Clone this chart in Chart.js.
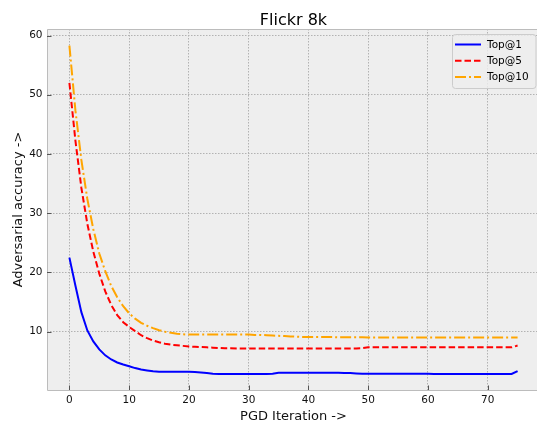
<!DOCTYPE html>
<html>
<head>
<meta charset="utf-8">
<title>Flickr 8k</title>
<script src="https://cdn.jsdelivr.net/npm/chart.js@4.4.1/dist/chart.umd.min.js"></script>
<style>
  html, body { margin: 0; padding: 0; background: #fff; overflow: hidden; }
  #wrap { position: absolute; left: 0; top: 0; width: 540px; height: 427px; }
</style>
</head>
<body>
<div id="wrap"><canvas id="chart" width="540" height="427"></canvas></div>
<script>
// PGD iteration on the x axis
const iterations = [
  0, 1, 2, 3, 4, 5, 6, 7, 8, 9, 10, 11, 12, 13, 14, 15, 16, 17, 18, 19,
  20, 21, 22, 23, 24, 25, 26, 27, 28, 29, 30, 31, 32, 33, 34, 35, 36, 37, 38, 39,
  40, 41, 42, 43, 44, 45, 46, 47, 48, 49, 50, 51, 52, 53, 54, 55, 56, 57, 58, 59,
  60, 61, 62, 63, 64, 65, 66, 67, 68, 69, 70, 71, 72, 73, 74, 75
];

// adversarial accuracy
const top1 = [
  22.5, 17.8, 13.3, 10.2, 8.35, 7.0, 6.0, 5.3, 4.8, 4.45, 4.15, 3.85, 3.6, 3.45, 3.3, 3.25, 3.25, 3.25, 3.25, 3.25,
  3.25, 3.2, 3.1, 3.0, 2.9, 2.85, 2.85, 2.85, 2.85, 2.85, 2.85, 2.85, 2.85, 2.85, 2.9, 3.05, 3.05, 3.05, 3.05, 3.05,
  3.05, 3.05, 3.05, 3.05, 3.05, 3.05, 3.0, 3.0, 2.95, 2.9, 2.9, 2.9, 2.9, 2.9, 2.9, 2.9, 2.9, 2.9, 2.9, 2.9,
  2.9, 2.85, 2.85, 2.85, 2.85, 2.85, 2.85, 2.85, 2.85, 2.85, 2.85, 2.85, 2.85, 2.85, 2.85, 3.35
];
const top5 = [
  52.0, 42.3, 34.3, 28.2, 23.5, 19.8, 16.8, 14.5, 12.8, 11.6, 10.8, 10.1, 9.4, 8.9, 8.5, 8.2, 7.95, 7.8, 7.7, 7.6,
  7.5, 7.45, 7.4, 7.35, 7.3, 7.25, 7.2, 7.2, 7.15, 7.15, 7.15, 7.15, 7.15, 7.15, 7.15, 7.15, 7.15, 7.15, 7.15, 7.15,
  7.15, 7.15, 7.15, 7.15, 7.15, 7.15, 7.15, 7.15, 7.15, 7.2, 7.35, 7.35, 7.35, 7.35, 7.35, 7.35, 7.35, 7.35, 7.35, 7.35,
  7.35, 7.35, 7.35, 7.35, 7.35, 7.35, 7.35, 7.35, 7.35, 7.35, 7.35, 7.35, 7.35, 7.35, 7.35, 7.65
];
const top10 = [
  58.3, 47.4, 39.0, 32.4, 27.3, 23.2, 20.2, 17.7, 15.8, 14.3, 13.1, 12.2, 11.5, 11.0, 10.6, 10.25, 10.0, 9.8, 9.65, 9.55,
  9.5, 9.5, 9.5, 9.5, 9.5, 9.5, 9.5, 9.5, 9.5, 9.5, 9.5, 9.45, 9.45, 9.4, 9.35, 9.3, 9.25, 9.2, 9.15, 9.1,
  9.1, 9.1, 9.1, 9.1, 9.1, 9.05, 9.05, 9.05, 9.05, 9.05, 9.0, 9.0, 9.0, 9.0, 9.0, 9.0, 9.0, 9.0, 9.0, 9.0,
  9.0, 9.0, 9.0, 9.0, 9.0, 9.0, 9.0, 9.0, 9.0, 9.0, 9.0, 9.0, 9.0, 9.0, 9.0, 9.0
];

const seriesLabels = ['Top@1', 'Top@5', 'Top@10'];
const xTicks = [0, 10, 20, 30, 40, 50, 60, 70];
const yTicks = [10, 20, 30, 40, 50, 60];

const FONT = '"DejaVu Sans", "Liberation Sans", sans-serif';

function points(ys) {
  return iterations.map((x, i) => ({ x: x, y: ys[i] }));
}

// background, frame, inward ticks, title and legend (matplotlib bmh look)
const decor = {
  id: 'decor',
  beforeDraw(chart) {
    const { ctx, chartArea: a } = chart;
    ctx.save();
    ctx.fillStyle = '#ffffff';
    ctx.fillRect(0, 0, chart.width, chart.height);
    ctx.fillStyle = '#eeeeee';
    ctx.fillRect(a.left, a.top, a.right - a.left, a.bottom - a.top);
    ctx.restore();
  },
  afterDraw(chart) {
    const { ctx, chartArea: a, scales } = chart;
    ctx.save();

    // frame (right side falls outside the window)
    const l = Math.round(a.left) + 0.5, t = Math.round(a.top) + 0.5, b = Math.round(a.bottom) + 0.5;
    ctx.strokeStyle = '#bcbcbc';
    ctx.lineWidth = 1;
    ctx.beginPath();
    ctx.moveTo(a.right + 5, t);
    ctx.lineTo(l, t);
    ctx.lineTo(l, b);
    ctx.lineTo(a.right + 5, b);
    ctx.stroke();

    // tick marks pointing inside
    ctx.strokeStyle = '#555555';
    ctx.beginPath();
    scales.x.ticks.forEach(tk => {
      const px = Math.round(scales.x.getPixelForValue(tk.value)) + 0.5;
      ctx.moveTo(px, a.bottom);
      ctx.lineTo(px, a.bottom - 4.5);
    });
    scales.y.ticks.forEach(tk => {
      const py = Math.round(scales.y.getPixelForValue(tk.value)) + 0.5;
      ctx.moveTo(a.left, py);
      ctx.lineTo(a.left + 4.5, py);
    });
    ctx.stroke();

    // title centred over the axes
    ctx.fillStyle = '#000000';
    ctx.font = '16px ' + FONT;
    ctx.textAlign = 'center';
    ctx.textBaseline = 'alphabetic';
    ctx.fillText('Flickr 8k', (a.left + a.right) / 2, 24.5);

    // legend box
    const bx = 452, by = 34, bw = 83.5, bh = 54;
    ctx.beginPath();
    ctx.roundRect(bx + 0.5, by + 0.5, bw, bh, 3);
    ctx.fillStyle = 'rgba(238,238,238,0.8)';
    ctx.fill();
    ctx.strokeStyle = '#cccccc';
    ctx.stroke();

    const rows = [44.5, 60.7, 76.9];
    ctx.font = '10.5px ' + FONT;
    ctx.textAlign = 'left';
    ctx.textBaseline = 'middle';
    chart.data.datasets.forEach((ds, i) => {
      const y = rows[i];
      ctx.beginPath();
      ctx.setLineDash(ds.borderDash || []);
      ctx.lineWidth = ds.borderWidth;
      ctx.strokeStyle = ds.borderColor;
      ctx.moveTo(455, y);
      ctx.lineTo(481, y);
      ctx.stroke();
      ctx.setLineDash([]);
      ctx.fillStyle = '#000000';
      ctx.fillText(ds.label, 487, y + 0.5);
    });

    ctx.restore();
  }
};

const gridOpts = { color: '#b2b2b2', lineWidth: 1, drawTicks: false };
const borderOpts = { display: false, dash: [1.5, 1.5] };

new Chart(document.getElementById('chart'), {
  type: 'line',
  data: {
    datasets: [
      { label: seriesLabels[0], data: points(top1), borderColor: '#0000ff', borderWidth: 2, borderDash: [] },
      { label: seriesLabels[1], data: points(top5), borderColor: '#ff0000', borderWidth: 2, borderDash: [6.5, 3] },
      { label: seriesLabels[2], data: points(top10), borderColor: '#ffa500', borderWidth: 2, borderDash: [11, 3, 2, 3] }
    ]
  },
  options: {
    responsive: false,
    devicePixelRatio: 1,
    animation: false,
    layout: { padding: { top: 29, left: 0, right: 0, bottom: 0 } },
    elements: {
      point: { radius: 0, hoverRadius: 0 },
      line: { tension: 0, fill: false, borderCapStyle: 'butt' }
    },
    plugins: {
      legend: { display: false },
      title: { display: false },
      tooltip: { enabled: false }
    },
    scales: {
      x: {
        type: 'linear',
        position: 'bottom',
        min: -3.75,
        max: 78.75,
        afterBuildTicks: s => { s.ticks = xTicks.map(v => ({ value: v })); },
        afterFit: s => { s.height = 37; },
        grid: gridOpts,
        border: borderOpts,
        ticks: { padding: 4, color: '#111111', font: { family: FONT, size: 10.5 }, maxRotation: 0 },
        title: {
          display: true,
          text: 'PGD Iteration ->',
          color: '#111111',
          font: { family: FONT, size: 13 },
          padding: { top: 0, bottom: 3 }
        }
      },
      y: {
        type: 'linear',
        min: 0.15,
        max: 61.1,
        afterBuildTicks: s => { s.ticks = yTicks.map(v => ({ value: v })); },
        afterFit: s => { s.width = 47; },
        grid: gridOpts,
        border: borderOpts,
        ticks: { padding: 4.5, color: '#111111', font: { family: FONT, size: 10.5 } },
        title: {
          display: true,
          text: 'Adversarial accuracy ->',
          color: '#111111',
          font: { family: FONT, size: 13 },
          padding: { top: 11, bottom: 0 }
        }
      }
    }
  },
  plugins: [decor]
});
</script>
</body>
</html>
